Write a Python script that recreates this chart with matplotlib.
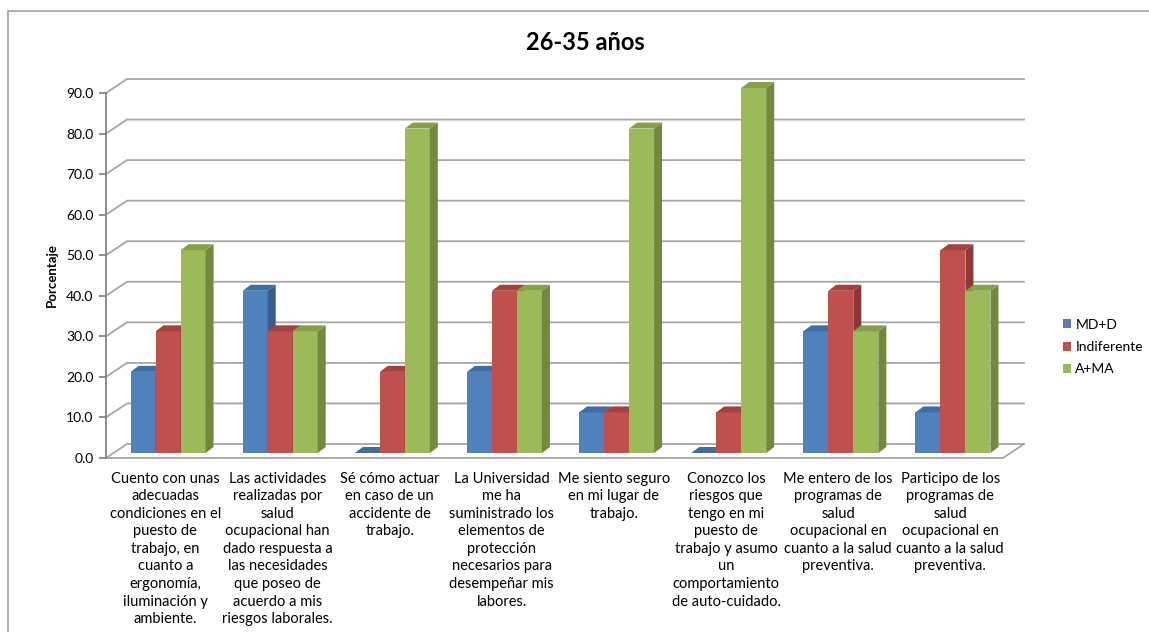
import matplotlib
matplotlib.use("Agg")
import matplotlib.pyplot as plt
from matplotlib.patches import Polygon, Patch, Rectangle

plt.rcParams['font.family'] = ['Lato', 'DejaVu Sans']

# data
categories = [
    "Cuento con unas\nadecuadas\ncondiciones en el\npuesto de\ntrabajo, en\ncuanto a\nergonomía,\niluminación y\nambiente.",
    "Las actividades\nrealizadas por\nsalud\nocupacional han\ndado respuesta a\nlas necesidades\nque poseo de\nacuerdo a mis\nriesgos laborales.",
    "Sé cómo actuar\nen caso de un\naccidente de\ntrabajo.",
    "La Universidad\nme ha\nsuministrado los\nelementos de\nprotección\nnecesarios para\ndesempeñar mis\nlabores.",
    "Me siento seguro\nen mi lugar de\ntrabajo.",
    "Conozco los\nriesgos que\ntengo en mi\npuesto de\ntrabajo y asumo\nun\ncomportamiento\nde auto-cuidado.",
    "Me entero de los\nprogramas de\nsalud\nocupacional en\ncuanto a la salud\npreventiva.",
    "Participo de los\nprogramas de\nsalud\nocupacional en\ncuanto a la salud\npreventiva.",
]
series_names = ["MD+D", "Indiferente", "A+MA"]
md_d = [20, 40, 0, 20, 10, 0, 30, 10]
indiferente = [30, 30, 20, 40, 10, 10, 40, 50]
a_ma = [50, 30, 80, 40, 80, 90, 30, 40]
series = [md_d, indiferente, a_ma]

front = ["#4F81BD", "#C0504D", "#9BBB59"]
side = ["#385D8A", "#8C3836", "#71893F"]
top = ["#3F6EA6", "#A5403D", "#84A249"]

fig = plt.figure(figsize=(11.49, 6.32), dpi=100)
ax = fig.add_axes([106 / 1149, 1 - 458 / 632, 897 / 1149, 365 / 632])
ax.set_xlim(0, 8)
ax.set_ylim(0, 90)

# pixel -> data unit scales
sx = 897 / 8.0
sy = 365 / 90.0
wall_dx, wall_dy = 21 / sx, 14 / sy
bar_dx, bar_dy = 6 / sx, 5 / sy
dep_dx, dep_dy = 8 / sx, 6 / sy
w = 25 / sx

grid_c = "#A6A6A6"
for v in range(0, 100, 10):
    ax.plot([0, wall_dx, 8 + wall_dx], [v, v + wall_dy, v + wall_dy],
            color=grid_c, lw=1.3, clip_on=False, zorder=1)
# floor
ax.plot([0, 8, 8 + wall_dx], [0, 0, wall_dy], color=grid_c, lw=1.3, clip_on=False, zorder=1)

z = 3
for i in range(len(categories)):
    for k, vals in enumerate(series):
        v = vals[i]
        x0 = i + 0.5 - 1.5 * w + bar_dx + k * w
        x1 = x0 + w
        b = bar_dy
        ax.bar(x0, v, width=w, bottom=b, align="edge", color=front[k],
               clip_on=False, zorder=z)
        ax.add_patch(Polygon([(x1, b), (x1 + dep_dx, b + dep_dy),
                              (x1 + dep_dx, b + v + dep_dy), (x1, b + v)],
                             closed=True, facecolor=side[k], edgecolor="none",
                             clip_on=False, zorder=z))
        ax.add_patch(Polygon([(x0, b + v), (x1, b + v),
                              (x1 + dep_dx, b + v + dep_dy), (x0 + dep_dx, b + v + dep_dy)],
                             closed=True, facecolor=top[k], edgecolor="none",
                             clip_on=False, zorder=z))
        z += 1

for s in ["top", "right", "bottom"]:
    ax.spines[s].set_visible(False)
ax.spines["left"].set_color("#868686")
ax.spines["left"].set_linewidth(1.3)

ax.set_yticks(range(0, 100, 10))
ax.set_yticklabels([f"{v:.1f}" for v in range(0, 100, 10)], fontsize=10)
ax.tick_params(axis="y", length=5, color="#868686", width=1.3, pad=4)
ax.set_xticks([i + 0.53 for i in range(len(categories))])
ax.set_xticklabels(categories, fontsize=10.5, linespacing=1.32)
ax.tick_params(axis="x", length=0, pad=10)

ax.set_ylabel("Porcentaje", fontsize=9.5, fontweight="bold", labelpad=6)
fig.text(585 / 1149, 1 - 42 / 632, "26-35 años", fontsize=17, fontweight="bold",
         ha="center", va="center")

handles = [Patch(facecolor=front[k], edgecolor="none") for k in range(3)]
fig.legend(handles, series_names, loc="center left",
           bbox_to_anchor=(1060 / 1149, 1 - 347 / 632), frameon=False,
           fontsize=10, handlelength=0.6, handleheight=0.6, handletextpad=0.3,
           labelspacing=0.75, borderpad=0.2, borderaxespad=0)

fig.patches.append(Rectangle((8 / 1149, -0.01), 1.2, 1 - 11 / 632 + 0.01,
                             transform=fig.transFigure, fill=False,
                             edgecolor="#A0A0A0", lw=1.2))

fig.savefig("out.png", dpi=100)
